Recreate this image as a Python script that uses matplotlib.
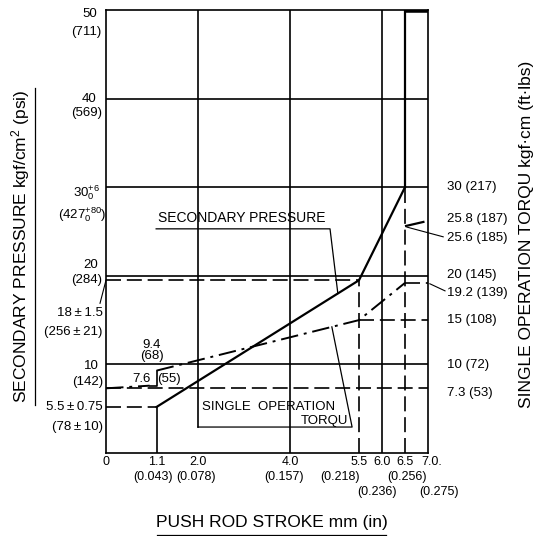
import numpy as np
import matplotlib.pyplot as plt

plt.rcParams['font.family'] = ['Liberation Sans', 'DejaVu Sans']
plt.rcParams['mathtext.fontset'] = 'custom'
plt.rcParams['mathtext.rm'] = 'Liberation Sans'
plt.rcParams['mathtext.it'] = 'Liberation Sans'

# ---- data --------------------------------------------------------------
# secondary pressure (kgf/cm2) vs push rod stroke (mm)
pres_x = [1.1, 5.5, 6.5]
pres_y = [5.2, 19.5, 30.0]
# single operation torque (kgf-cm), low branch and upper branch
torq_x = [0.0, 0.95, 1.1, 1.1, 5.5, 6.5]
torq_y = [7.3, 7.6, 7.6, 9.3, 15.0, 19.2]
torq_hi_x = [6.5, 7.0]
torq_hi_y = [25.6, 26.2]

solid_levels = [10, 20, 30, 40]
solid_strokes = [4.0, 6.0]

stroke_mm = [0, 1.1, 2.0, 4.0, 5.5, 6.0, 6.5, 7.0]
stroke_lbl = ['0', '1.1', '2.0', '4.0', '5.5', '6.0', '6.5', '7.0.']
inch_lbl = ['(0.043)', '(0.078)', '(0.157)', '(0.218)', '(0.256)', '(0.236)', '(0.275)']
inch_pos = [1.02, 1.96, 3.87, 5.09, 6.54, 5.89, 7.24]
inch_row = [0, 0, 0, 0, 0, 1, 1]

right_lbl = ['30 (217)', '25.8 (187)', '25.6 (185)', '20 (145)', '19.2 (139)',
             '15 (108)', '10 (72)', '7.3 (53)']
right_pos = [30.0, 26.4, 24.3, 20.1, 18.1, 15.0, 9.9, 6.8]

DASH = (0, (9, 3.5))
DASHDOT = (0, (9, 3, 1.5, 3))
LW = 1.2
PM = '\u2009±\u2009'

fig = plt.figure(figsize=(5.42, 5.36), dpi=100)
ax = fig.add_axes([106 / 542, 83 / 536, 322 / 542, 443 / 536])
ax.set_xlim(0, 7.0)
ax.set_ylim(0, 50)
ax.set_xticks([])
ax.set_yticks([])
for s in ax.spines.values():
    s.set_linewidth(LW)

# solid grid
for v in solid_levels:
    ax.plot([0, 7.0], [v, v], color='black', lw=LW)
for x in solid_strokes:
    ax.plot([x, x], [0, 50], color='black', lw=LW)
ax.plot([2.0, 2.0], [2.93, 50], color='black', lw=LW)
ax.plot([pres_x[2], pres_x[2]], [pres_y[2], 50], color='black', lw=1.6)
ax.plot([pres_x[2], 7.0], [50, 50], color='black', lw=4, solid_capstyle='butt')

# dashed guides
ax.plot([0, 7.0], [torq_y[0], torq_y[0]], color='black', lw=LW, ls=DASH)
ax.plot([0, pres_x[0]], [pres_y[0], pres_y[0]], color='black', lw=LW, ls=DASH)
ax.plot([pres_x[0], pres_x[0]], [0, pres_y[0]], color='black', lw=LW)
ax.plot([0, pres_x[1]], [pres_y[1], pres_y[1]], color='black', lw=LW, ls=DASH)
ax.plot([pres_x[1], pres_x[1]], [0, pres_y[1]], color='black', lw=LW, ls=DASH)
ax.plot([pres_x[2], pres_x[2]], [0, pres_y[2]], color='black', lw=LW, ls=DASH)
ax.plot([torq_x[4], 7.0], [torq_y[4], torq_y[4]], color='black', lw=LW, ls=DASH)
ax.plot([torq_x[5], 7.0], [torq_y[5], torq_y[5]], color='black', lw=LW, ls=DASH)

# curves
ax.plot(pres_x, pres_y, color='black', lw=1.6)
ax.plot(torq_x[:2], torq_y[:2], color='black', lw=1.4, ls=DASHDOT)
ax.plot(torq_x[1:4], torq_y[1:4], color='black', lw=1.2)
ax.plot(torq_x[3:], torq_y[3:], color='black', lw=1.4, ls=DASHDOT)
ax.plot(torq_hi_x, torq_hi_y, color='black', lw=1.6, ls=DASHDOT)

# bottom tick labels
for x, t in zip(stroke_mm, stroke_lbl):
    ax.text(x + (0.07 if t.endswith('.') and len(t) > 3 else 0), -1.0, t,
            ha='center', va='center', fontsize=9)
for x, t, r in zip(inch_pos, inch_lbl, inch_row):
    ax.text(x, -2.7 - 1.7 * r, t, ha='center', va='center', fontsize=9)

# left tick labels
left = [(-0.2, 49.5, '50'), (-0.09, 47.5, '(711)'),
        (-0.2, 40.0, '40'), (-0.09, 38.4, '(569)'),
        (-0.17, 21.2, '20'), (-0.09, 19.5, '(284)'),
        (-0.07, 15.8, '18' + PM + '1.5'), (-0.07, 13.7, '(256' + PM + '21)'),
        (-0.15, 9.8, '10'), (-0.07, 8.0, '(142)'),
        (-0.07, 5.2, '5.5' + PM + '0.75'), (-0.07, 2.9, '(78' + PM + '10)')]
for x, y, t in left:
    ax.text(x, y, t, ha='right', va='center', fontsize=9.5, clip_on=False)
ax.text(-0.13, 28.9, r'30$^{+6}_{0}$', ha='right', va='baseline', fontsize=9.5)
ax.text(0.0, 26.5, r'(427$^{+80}_{0}$)', ha='right', va='baseline', fontsize=9.5)
ax.plot([-0.13, 0], [16.9, pres_y[1]], color='black', lw=0.8, clip_on=False)

# right labels
for y, t in zip(right_pos, right_lbl):
    ax.text(7.41, y, t, ha='left', va='center', fontsize=9.5)
ax.plot([6.54, 7.33], [25.5, 24.4], color='black', lw=0.8, clip_on=False)
ax.plot([7.04, 7.37], [19.1, 18.3], color='black', lw=0.8, clip_on=False)

# curve callouts
ax.text(1.13, 26.5, 'SECONDARY PRESSURE', ha='left', va='center', fontsize=10)
lx = 5.04
ax.plot([1.09, 4.87, lx], [25.3, 25.3, np.interp(lx, pres_x, pres_y)],
        color='black', lw=0.9)
ax.text(2.09, 5.2, 'SINGLE  OPERATION', ha='left', va='center', fontsize=9.5)
ax.text(5.26, 3.6, 'TORQU', ha='right', va='center', fontsize=9.5)
lx = 4.91
ax.plot([2.0, 5.35, lx], [2.93, 2.93, np.interp(lx, torq_x[3:], torq_y[3:])],
        color='black', lw=0.9)
ax.text(1.0, 12.2, '9.4', ha='center', va='center', fontsize=9.5)
ax.text(1.0, 10.9, '(68)', ha='center', va='center', fontsize=9.5)
ax.text(0.78, 8.4, '7.6', ha='center', va='center', fontsize=9.5)
ax.text(1.37, 8.4, '(55)', ha='center', va='center', fontsize=9.5)

# axis titles
ax.text(1.09, -7.8, 'PUSH ROD STROKE mm (in)', ha='left', va='center', fontsize=12.5)
ax.plot([1.11, 6.09], [-9.25, -9.25], color='black', lw=0.9, clip_on=False)
ax.text(-1.85, 23.3, 'SECONDARY PRESSURE kgf/cm$^2$ (psi)', rotation=90,
        ha='center', va='center', fontsize=12.5)
ax.plot([-1.54, -1.54], [5.4, 41.2], color='black', lw=0.9, clip_on=False)
ax.text(9.15, 24.7, 'SINGLE OPERATION TORQU kgf·cm (ft·lbs)', rotation=90,
        ha='center', va='center', fontsize=12.5)

fig.savefig('out.png', dpi=100)
